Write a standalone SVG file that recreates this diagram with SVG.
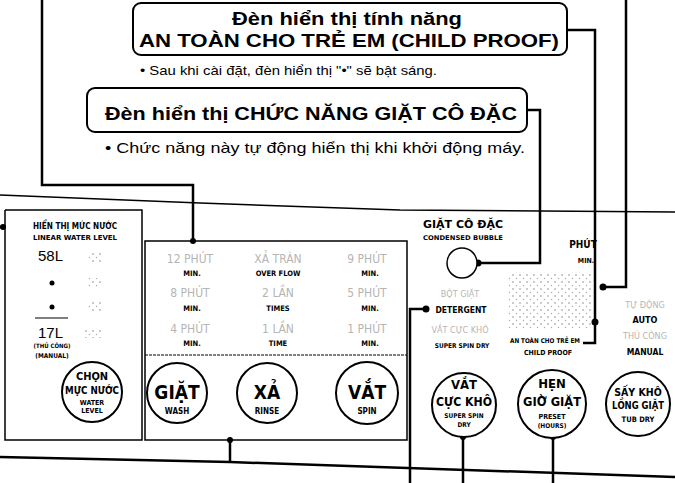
<svg xmlns="http://www.w3.org/2000/svg" width="675" height="483" viewBox="0 0 675 483">
<defs>
<style>
.hdr{font-family:"Liberation Sans",Arial,sans-serif;font-weight:bold;fill:#000}
.note{font-family:"Liberation Sans",Arial,sans-serif;fill:#000}
.cn{font-family:"DejaVu Sans Condensed","Liberation Sans Narrow","Liberation Sans",sans-serif;font-weight:bold;fill:#000}
.led{font-family:"DejaVu Sans Condensed","Liberation Sans",sans-serif;fill:#b5b5b5}
.box{fill:#fff;stroke:#000;stroke-width:2}
.panel{fill:none;stroke:#000;stroke-width:1.5}
.wire{fill:none;stroke:#000;stroke-width:2.5}
.edge{fill:none;stroke:#000;stroke-width:1.5}
.btn{fill:#fff;stroke:#000;stroke-width:2}
.dot{fill:#000}
</style>
<pattern id="dots" width="7" height="7" patternUnits="userSpaceOnUse">
<circle cx="2" cy="2" r="0.8" fill="#888"/>
<circle cx="5.5" cy="5.5" r="0.7" fill="#aaa"/>
</pattern>
</defs>

<!-- panel edges -->
<polyline class="edge" points="0,195 200,203 400,210 675,212"/>

<!-- connectors -->
<g id="connectors">
<polyline class="wire" points="42,0 42,185 193,185 193,241"/>
<line class="wire" x1="0" y1="227" x2="5" y2="227"/>
<polyline class="wire" points="567,30 595,30 595,343 583,343"/>
<polyline class="wire" points="626,0 626,287 603,287"/>
<polyline class="wire" points="527,110 540,110 540,263 478,263"/>
<polyline class="wire" points="426,309 410,309 410,483"/>
<polyline class="wire" points="0,457 230,462 675,477"/>
<line class="wire" x1="230" y1="440" x2="230" y2="462"/>
<line class="wire" x1="463" y1="437" x2="463" y2="483"/>
<line class="wire" x1="553" y1="437" x2="553" y2="483"/>
<circle class="dot" cx="193" cy="241" r="3"/>
<circle class="dot" cx="3" cy="227" r="3"/>
<circle class="dot" cx="595" cy="322" r="3.5"/>
<circle class="dot" cx="603" cy="287" r="3.5"/>
<circle class="dot" cx="478" cy="263" r="3.5"/>
<circle class="dot" cx="426" cy="309" r="3.5"/>
<circle class="dot" cx="230" cy="440" r="3"/>
<circle class="dot" cx="463" cy="437" r="3"/>
<circle class="dot" cx="553" cy="437" r="3"/>
</g>

<!-- header 1 -->
<g id="child-proof-label">
<rect class="box" x="133" y="3" width="434" height="52" rx="8"/>
<text class="hdr" x="347" y="25" font-size="18" text-anchor="middle" textLength="230" lengthAdjust="spacingAndGlyphs">Đèn hiển thị tính năng</text>
<text class="hdr" x="349" y="47" font-size="19" text-anchor="middle" textLength="420" lengthAdjust="spacingAndGlyphs">AN TOÀN CHO TRẺ EM (CHILD PROOF)</text>
<text class="note" x="140" y="75" font-size="13" textLength="297" lengthAdjust="spacingAndGlyphs">• Sau khi cài đặt, đèn hiển thị "•" sẽ bật sáng.</text>
</g>

<!-- header 2 -->
<g id="condensed-label">
<rect class="box" x="87" y="88" width="440" height="44" rx="8"/>
<text class="hdr" x="105" y="120" font-size="19" textLength="412" lengthAdjust="spacingAndGlyphs">Đèn hiển thị CHỨC NĂNG GIẶT CÔ ĐẶC</text>
<text class="note" x="105" y="153" font-size="15" textLength="420" lengthAdjust="spacingAndGlyphs">• Chức năng này tự động hiển thị khi khởi động máy.</text>
</g>

<!-- water level panel -->
<g id="water-level-panel">
<polyline class="panel" points="5,210 142,210 142,440 5,440 5,210"/>
<text class="cn" x="75" y="229" font-size="8" text-anchor="middle" textLength="84" lengthAdjust="spacingAndGlyphs">HIỂN THỊ MỨC NƯỚC</text>
<text class="cn" x="75" y="240" font-size="7" text-anchor="middle" textLength="84" lengthAdjust="spacingAndGlyphs">LINEAR WATER LEVEL</text>
<text class="note" x="38" y="261" font-size="15" font-family="DejaVu Sans Condensed">58L</text>
<circle cx="52" cy="283" r="2.5" fill="#000"/>
<circle cx="52" cy="307" r="2.5" fill="#000"/>
<line x1="35" y1="318" x2="68" y2="318" stroke="#000" stroke-width="1"/>
<text class="note" x="38" y="338" font-size="15" font-family="DejaVu Sans Condensed">17L</text>
<text class="cn" x="52" y="348" font-size="6" text-anchor="middle">(THỦ CÔNG)</text>
<text class="cn" x="52" y="358" font-size="6.5" text-anchor="middle" font-weight="normal">(MANUAL)</text>
<rect x="88" y="252" width="14" height="10" fill="url(#dots)"/>
<rect x="88" y="278" width="14" height="10" fill="url(#dots)"/>
<rect x="88" y="302" width="14" height="10" fill="url(#dots)"/>
<rect x="84" y="328" width="18" height="10" fill="url(#dots)"/>
</g>

<g id="btn-water-level">
<circle class="btn" cx="92" cy="392" r="30"/>
<text class="cn" x="92" y="380" font-size="11" text-anchor="middle">CHỌN</text>
<text class="cn" x="92" y="394" font-size="10.5" text-anchor="middle" textLength="54" lengthAdjust="spacingAndGlyphs">MỰC NƯỚC</text>
<text class="cn" x="92" y="405" font-size="7" text-anchor="middle" font-weight="normal">WATER</text>
<text class="cn" x="92" y="413" font-size="7" text-anchor="middle" font-weight="normal">LEVEL</text>
</g>

<!-- time panel -->
<g id="time-panel">
<rect class="panel" x="145" y="241" width="262" height="199"/>
<line x1="145" y1="355" x2="407" y2="355" stroke="#000" stroke-width="1" stroke-dasharray="3,1"/>
<g font-size="12" text-anchor="middle" class="led">
<text x="190" y="263">12 PHÚT</text>
<text x="278" y="263">XẢ TRÀN</text>
<text x="367" y="263">9 PHÚT</text>
<text x="190" y="297">8 PHÚT</text>
<text x="278" y="297">2 LẦN</text>
<text x="367" y="297">5 PHÚT</text>
<text x="190" y="333">4 PHÚT</text>
<text x="278" y="333">1 LẦN</text>
<text x="367" y="333">1 PHÚT</text>
</g>
<g font-size="7.5" text-anchor="middle" class="cn">
<text x="192" y="276">MIN.</text>
<text x="278" y="276">OVER FLOW</text>
<text x="370" y="276">MIN.</text>
<text x="192" y="311">MIN.</text>
<text x="278" y="311">TIMES</text>
<text x="370" y="311">MIN.</text>
<text x="192" y="346">MIN.</text>
<text x="278" y="346">TIME</text>
<text x="370" y="346">MIN.</text>
</g>
</g>

<g id="btn-wash">
<circle class="btn" cx="177" cy="393" r="30"/>
<text class="cn" x="177" y="399" font-size="19" text-anchor="middle">GIẶT</text>
<text class="cn" x="177" y="414" font-size="8" text-anchor="middle" font-weight="normal">WASH</text>
</g>
<g id="btn-rinse">
<circle class="btn" cx="267" cy="393" r="30"/>
<text class="cn" x="267" y="399" font-size="19" text-anchor="middle">XẢ</text>
<text class="cn" x="267" y="414" font-size="8" text-anchor="middle" font-weight="normal">RINSE</text>
</g>
<g id="btn-spin">
<circle class="btn" cx="367" cy="393" r="31"/>
<text class="cn" x="367" y="399" font-size="19" text-anchor="middle">VẮT</text>
<text class="cn" x="367" y="414" font-size="8" text-anchor="middle" font-weight="normal">SPIN</text>
</g>

<!-- right panel -->
<g id="condensed-indicator">
<text class="cn" x="463" y="228" font-size="10" text-anchor="middle" textLength="80" lengthAdjust="spacingAndGlyphs">GIẶT CÔ ĐẶC</text>
<text class="cn" x="463" y="240" font-size="6.5" text-anchor="middle" textLength="80" lengthAdjust="spacingAndGlyphs">CONDENSED BUBBLE</text>
<circle cx="462" cy="263" r="15" fill="#fff" stroke="#000" stroke-width="1.5"/>
</g>

<g id="options">
<text class="led" x="460" y="297" font-size="9" text-anchor="middle">BỘT GIẶT</text>
<text class="cn" x="461" y="313" font-size="8.5" text-anchor="middle">DETERGENT</text>
<text class="led" x="460" y="333" font-size="9" text-anchor="middle">VẮT CỰC KHÔ</text>
<text class="cn" x="462" y="348" font-size="6.5" text-anchor="middle" font-weight="normal">SUPER SPIN DRY</text>
</g>

<g id="minutes-display">
<text class="cn" x="583" y="248" font-size="10" text-anchor="middle">PHÚT</text>
<text class="cn" x="586" y="263" font-size="7" text-anchor="middle" font-weight="normal">MIN.</text>
<rect x="507" y="272" width="86" height="58" fill="url(#dots)"/>
</g>

<g id="child-proof-indicator">
<text class="cn" x="545" y="343" font-size="6.5" text-anchor="middle" textLength="70" lengthAdjust="spacingAndGlyphs">AN TOÀN CHO TRẺ EM</text>
<text class="cn" x="548" y="355" font-size="7" text-anchor="middle" font-weight="normal">CHILD PROOF</text>
</g>

<g id="mode">
<text class="led" x="645" y="308" font-size="9" text-anchor="middle">TỰ ĐỘNG</text>
<text class="cn" x="645" y="323" font-size="9" text-anchor="middle">AUTO</text>
<text class="led" x="645" y="339" font-size="9" text-anchor="middle">THỦ CÔNG</text>
<text class="cn" x="645" y="355" font-size="8.5" text-anchor="middle" font-weight="normal">MANUAL</text>
</g>

<g id="btn-super-spin">
<circle class="btn" cx="464" cy="405" r="32"/>
<text class="cn" x="464" y="389" font-size="13" text-anchor="middle">VẮT</text>
<text class="cn" x="464" y="406" font-size="13" text-anchor="middle" textLength="56" lengthAdjust="spacingAndGlyphs">CỰC KHÔ</text>
<text class="cn" x="464" y="418" font-size="6.5" text-anchor="middle" font-weight="normal">SUPER SPIN</text>
<text class="cn" x="464" y="427" font-size="6.5" text-anchor="middle" font-weight="normal">DRY</text>
</g>
<g id="btn-preset">
<circle class="btn" cx="552" cy="404" r="34"/>
<text class="cn" x="552" y="388" font-size="13" text-anchor="middle">HẸN</text>
<text class="cn" x="552" y="406" font-size="13" text-anchor="middle" textLength="58" lengthAdjust="spacingAndGlyphs">GIỜ GIẶT</text>
<text class="cn" x="552" y="419" font-size="7" text-anchor="middle" font-weight="normal">PRESET</text>
<text class="cn" x="552" y="428" font-size="6.5" text-anchor="middle" font-weight="normal">(HOURS)</text>
</g>
<g id="btn-tub-dry">
<circle class="btn" cx="638" cy="404" r="32"/>
<text class="cn" x="638" y="396" font-size="10.5" text-anchor="middle">SẤY KHÔ</text>
<text class="cn" x="638" y="409" font-size="10.5" text-anchor="middle" textLength="52" lengthAdjust="spacingAndGlyphs">LỒNG GIẶT</text>
<text class="cn" x="638" y="422" font-size="7.5" text-anchor="middle" font-weight="normal">TUB DRY</text>
</g>
</svg>
